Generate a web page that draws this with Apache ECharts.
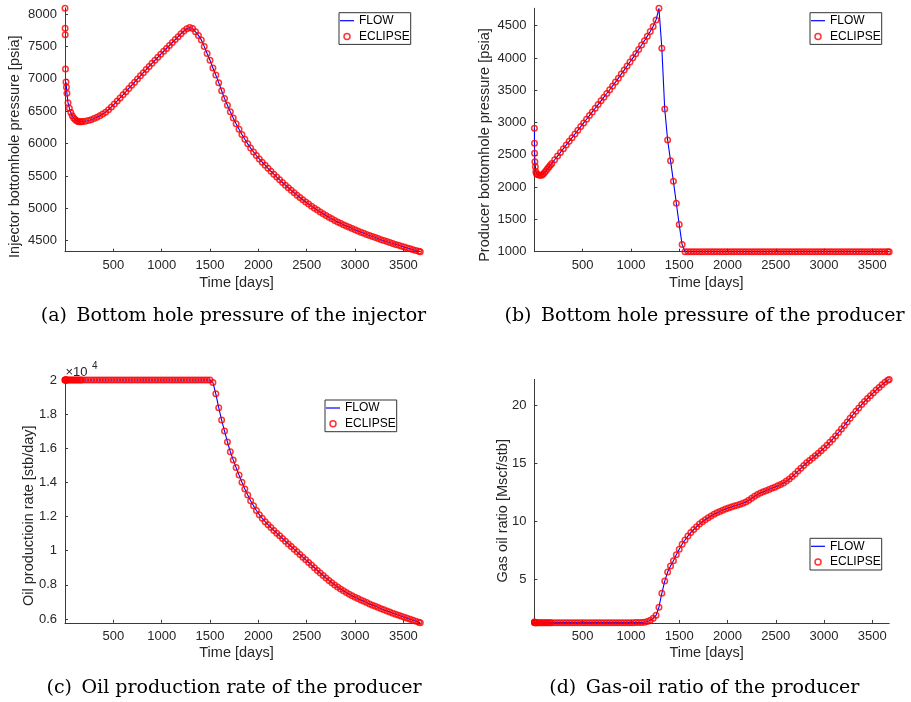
<!DOCTYPE html>
<html><head><meta charset="utf-8">
<script src="https://cdn.jsdelivr.net/npm/echarts@6/dist/echarts.min.js"></script>
<style>html,body{margin:0;padding:0;background:#fff;}#c{width:911px;height:702px;}</style>
</head><body><div id="c"></div>
<script>
// Report times [days]
const days = [
  0, 1, 2, 5, 10, 15, 20, 31, 45, 60,
  75, 90, 105, 120, 135, 150, 165, 180, 210, 240,
  270, 300, 330, 360, 390, 420, 450, 480, 510, 540,
  570, 600, 630, 660, 690, 720, 750, 780, 810, 840,
  870, 900, 930, 960, 990, 1020, 1050, 1080, 1110, 1140,
  1170, 1200, 1230, 1260, 1290, 1320, 1350, 1380, 1410, 1440,
  1470, 1500, 1530, 1560, 1590, 1620, 1650, 1680, 1710, 1740,
  1770, 1800, 1830, 1860, 1890, 1920, 1950, 1980, 2010, 2040,
  2070, 2100, 2130, 2160, 2190, 2220, 2250, 2280, 2310, 2340,
  2370, 2400, 2430, 2460, 2490, 2520, 2550, 2580, 2610, 2640,
  2670, 2700, 2730, 2760, 2790, 2820, 2850, 2880, 2910, 2940,
  2970, 3000, 3030, 3060, 3090, 3120, 3150, 3180, 3210, 3240,
  3270, 3300, 3330, 3360, 3390, 3420, 3450, 3480, 3510, 3540,
  3570, 3600, 3630, 3660, 3675
];
// (a) Injector bottomhole pressure [psia]
const injectorBhp = [
  8090, 7780, 7680, 7150, 6950, 6870, 6775, 6630, 6545, 6480,
  6430, 6395, 6370, 6352, 6342, 6338, 6338, 6340, 6345, 6355,
  6368, 6385, 6405, 6428, 6455, 6485, 6522, 6565, 6610, 6657,
  6705, 6753, 6801, 6850, 6899, 6948, 6997, 7046, 7094, 7142,
  7190, 7238, 7285, 7332, 7378, 7424, 7469, 7513, 7560, 7605,
  7650, 7695, 7738, 7773, 7793, 7775, 7725, 7670, 7600, 7500,
  7390, 7285, 7165, 7057, 6940, 6815, 6695, 6590, 6490, 6395,
  6305, 6220, 6140, 6065, 5995, 5930, 5870, 5815, 5763, 5713,
  5665, 5618, 5572, 5527, 5483, 5440, 5398, 5357, 5317, 5278,
  5240, 5203, 5167, 5132, 5098, 5065, 5033, 5002, 4972, 4943,
  4915, 4888, 4862, 4837, 4813, 4790, 4768, 4747, 4726, 4706,
  4687, 4668, 4650, 4632, 4614, 4597, 4580, 4564, 4548, 4532,
  4516, 4501, 4486, 4471, 4457, 4443, 4429, 4415, 4401, 4388,
  4375, 4362, 4349, 4337, 4331
];
// (b) Producer bottomhole pressure [psia]
const producerBhp = [
  2911, 2679, 2524, 2394, 2316, 2239, 2210, 2195, 2186, 2182,
  2185, 2200, 2225, 2255, 2283, 2311, 2339, 2367, 2424, 2481,
  2538, 2595, 2652, 2709, 2766, 2823, 2880, 2937, 2994, 3051,
  3108, 3165, 3222, 3279, 3336, 3393, 3450, 3508, 3567, 3627,
  3688, 3750, 3812, 3875, 3938, 4002, 4067, 4133, 4200, 4268,
  4338, 4410, 4488, 4590, 4770, 4150, 3210, 2730, 2410, 2090,
  1750, 1420, 1110, 1000, 1000, 1000, 1000, 1000, 1000, 1000,
  1000, 1000, 1000, 1000, 1000, 1000, 1000, 1000, 1000, 1000,
  1000, 1000, 1000, 1000, 1000, 1000, 1000, 1000, 1000, 1000,
  1000, 1000, 1000, 1000, 1000, 1000, 1000, 1000, 1000, 1000,
  1000, 1000, 1000, 1000, 1000, 1000, 1000, 1000, 1000, 1000,
  1000, 1000, 1000, 1000, 1000, 1000, 1000, 1000, 1000, 1000,
  1000, 1000, 1000, 1000, 1000, 1000, 1000, 1000, 1000, 1000,
  1000, 1000, 1000, 1000, 1000
];
// (c) Oil production rate [stb/day]
const oilRate = [
  20000, 20000, 20000, 20000, 20000, 20000, 20000, 20000, 20000, 20000,
  20000, 20000, 20000, 20000, 20000, 20000, 20000, 20000, 20000, 20000,
  20000, 20000, 20000, 20000, 20000, 20000, 20000, 20000, 20000, 20000,
  20000, 20000, 20000, 20000, 20000, 20000, 20000, 20000, 20000, 20000,
  20000, 20000, 20000, 20000, 20000, 20000, 20000, 20000, 20000, 20000,
  20000, 20000, 20000, 20000, 20000, 20000, 20000, 20000, 20000, 20000,
  20000, 20000, 19850, 19190, 18380, 17656, 17010, 16370, 15800, 15320,
  14870, 14430, 14010, 13620, 13260, 12930, 12630, 12360, 12110, 11900,
  11705, 11525, 11355, 11190, 11030, 10872, 10715, 10558, 10402, 10246,
  10090, 9935, 9780, 9625, 9470, 9315, 9160, 9005, 8850, 8697,
  8548, 8403, 8263, 8128, 7998, 7875, 7760, 7652, 7550, 7455,
  7368, 7283, 7200, 7119, 7040, 6963, 6888, 6815, 6744, 6675,
  6607, 6540, 6474, 6409, 6345, 6282, 6220, 6159, 6099, 6040,
  5982, 5925, 5869, 5814, 5787
];
// (d) Gas-oil ratio [Mscf/stb]
const gasOilRatio = [
  1.32, 1.30, 1.28, 1.27, 1.26, 1.26, 1.26, 1.26, 1.26, 1.26,
  1.26, 1.26, 1.26, 1.26, 1.27, 1.27, 1.27, 1.27, 1.27, 1.27,
  1.27, 1.27, 1.27, 1.27, 1.27, 1.27, 1.27, 1.27, 1.27, 1.27,
  1.27, 1.27, 1.27, 1.27, 1.27, 1.27, 1.27, 1.27, 1.27, 1.27,
  1.27, 1.27, 1.27, 1.27, 1.27, 1.27, 1.28, 1.28, 1.29, 1.31,
  1.36, 1.48, 1.65, 1.90, 2.60, 3.80, 4.85, 5.62, 6.15, 6.60,
  7.12, 7.58, 8.02, 8.38, 8.72, 9.02, 9.28, 9.52, 9.75, 9.95,
  10.13, 10.30, 10.45, 10.59, 10.72, 10.84, 10.95, 11.05, 11.14, 11.22,
  11.30, 11.37, 11.45, 11.54, 11.65, 11.80, 11.98, 12.15, 12.30, 12.42,
  12.53, 12.63, 12.73, 12.83, 12.93, 13.04, 13.16, 13.29, 13.45, 13.63,
  13.84, 14.07, 14.31, 14.55, 14.79, 15.02, 15.23, 15.43, 15.63, 15.84,
  16.06, 16.29, 16.53, 16.79, 17.06, 17.34, 17.63, 17.93, 18.23, 18.54,
  18.85, 19.16, 19.46, 19.75, 20.03, 20.30, 20.55, 20.80, 21.04, 21.28,
  21.51, 21.73, 21.95, 22.12, 22.20
];
// Tick values
const timeTicks = [500, 1000, 1500, 2000, 2500, 3000, 3500];
const injTicks = [4500, 5000, 5500, 6000, 6500, 7000, 7500, 8000];
const prodTicks = [1000, 1500, 2000, 2500, 3000, 3500, 4000, 4500];
const oilTicks = [6000, 8000, 10000, 12000, 14000, 16000, 18000, 20000];
const gorTicks = [5, 10, 15, 20];

const yNames = ['Injector bottomhole pressure [psia]', 'Producer bottomhole pressure [psia]',
                'Oil productioin rate [stb/day]', 'Gas oil ratio [Mscf/stb]'];
const captions = ['(a)\u2002Bottom hole pressure of the injector', '(b)\u2002Bottom hole pressure of the producer',
                  '(c)\u2002Oil production rate of the producer', '(d)\u2002Gas-oil ratio of the producer'];

const pairs = arr => days.map((d, i) => [d, arr[i]]);

const AX = '#3a3a3a', TXT = '#262626', SANS = 'Liberation Sans', SERIF = 'DejaVu Serif';

const grids = [
  {left: 65, top: 7.85, width: 355.3, height: 243.85},
  {left: 534.4, top: 8.26, width: 354.8, height: 243.44},
  {left: 65, top: 380, width: 355.3, height: 242.8},
  {left: 534.4, top: 379.4, width: 354.8, height: 243.5}
];
const yRanges = [[4330, 8095], [1000, 4770], [5780, 20000], [1.25, 22.2]];
const yTickSets = [injTicks, prodTicks, oilTicks, gorTicks];

const xAxes = grids.map((g, i) => ({
  type: 'value', gridIndex: i, min: 0, max: 3675,
  axisLine: {onZero: false, lineStyle: {color: AX, width: 1}},
  axisTick: {inside: true, length: 3, customValues: timeTicks, lineStyle: {color: AX, width: 1}},
  axisLabel: {customValues: timeTicks, margin: 7, fontSize: 13, fontFamily: SANS, color: TXT, formatter: v => String(v)},
  splitLine: {show: false}
}));
const yAxes = grids.map((g, i) => ({
  type: 'value', gridIndex: i, min: yRanges[i][0], max: yRanges[i][1],
  axisLine: {show: true, onZero: false, lineStyle: {color: AX, width: 1}},
  axisTick: {show: true, inside: true, length: 3, customValues: yTickSets[i], lineStyle: {color: AX, width: 1}},
  axisLabel: {customValues: yTickSets[i], margin: 8, fontSize: 13, fontFamily: SANS, color: TXT,
    formatter: i === 2 ? (v => String(Math.round(v / 1000) / 10)) : (v => String(v))},
  splitLine: {show: false}
}));

const dataSets = [injectorBhp, producerBhp, oilRate, gasOilRatio];
const series = [];
dataSets.forEach((arr, i) => {
  const pts = pairs(arr);
  series.push({
    name: 'FLOW', type: 'line', xAxisIndex: i, yAxisIndex: i,
    data: i === 0 ? pts.slice(4) : pts,
    symbol: 'none', showSymbol: false, clip: false, z: 2,
    lineStyle: {color: '#0000ff', width: 1.1}, itemStyle: {color: '#0000ff'}
  });
  series.push({
    name: 'ECLIPSE', type: 'scatter', xAxisIndex: i, yAxisIndex: i,
    data: pts, symbol: 'circle', symbolSize: 5.5, clip: false, z: 3,
    itemStyle: {color: 'rgba(255,255,255,0)', borderColor: '#ff0000', borderWidth: 1.5}
  });
});

const legendPos = [[339, 12.7], [810, 12.7], [325, 400], [810, 538.3]];
const legends = legendPos.map(p => ({
  orient: 'vertical', left: p[0], top: p[1], padding: [2, 1, 2, 1], itemGap: 3.7,
  itemWidth: 14, itemHeight: 6, selectedMode: false, symbolKeepAspect: true,
  borderColor: '#333', borderWidth: 1, backgroundColor: '#fff',
  textStyle: {fontSize: 12, fontFamily: SANS, color: '#000'},
  data: [
    {name: 'FLOW', icon: 'path://M0,0H14V1.2H0Z', itemStyle: {color: '#0000ff', borderWidth: 0}},
    {name: 'ECLIPSE', icon: 'circle', itemStyle: {color: 'rgba(255,255,255,0)', borderColor: '#ff0000', borderWidth: 1.5}}
  ]
}));

const yNamePos = [[15, 146.7], [485, 145], [28.8, 515.7], [502.5, 510.8]];
const xNamePos = [[236.5, 282.7], [706.3, 282.7], [236.5, 653.3], [706.7, 653.3]];
const capPos = [[233.5, 316], [704.5, 316], [234, 688.5], [704.3, 688.5]];
const graphics = [];
yNamePos.forEach((p, i) => graphics.push({type: 'text', x: p[0], y: p[1], rotation: Math.PI / 2,
  style: {text: yNames[i], fontSize: 14.5, fontFamily: SANS, fill: TXT, align: 'center', verticalAlign: 'middle'}}));
xNamePos.forEach(p => graphics.push({type: 'text', x: p[0], y: p[1],
  style: {text: 'Time [days]', fontSize: 14.5, fontFamily: SANS, fill: TXT, align: 'center', verticalAlign: 'middle'}}));
capPos.forEach((p, i) => graphics.push({type: 'text', x: p[0], y: p[1],
  style: {text: captions[i], fontSize: 19, fontFamily: SERIF, fill: '#000', align: 'center', verticalAlign: 'middle'}}));
graphics.push({type: 'text', x: 65.5, y: 372.5,
  style: {text: '\u00d710', fontSize: 13, fontFamily: SANS, fill: TXT, align: 'left', verticalAlign: 'middle'}});
graphics.push({type: 'text', x: 92, y: 366,
  style: {text: '4', fontSize: 10, fontFamily: SANS, fill: TXT, align: 'left', verticalAlign: 'middle'}});

const chart = echarts.init(document.getElementById('c'), null, {renderer: 'canvas'});
chart.setOption({
  animation: false,
  backgroundColor: '#fff',
  grid: grids,
  xAxis: xAxes,
  yAxis: yAxes,
  legend: legends,
  series: series,
  graphic: graphics
});
</script></body></html>
